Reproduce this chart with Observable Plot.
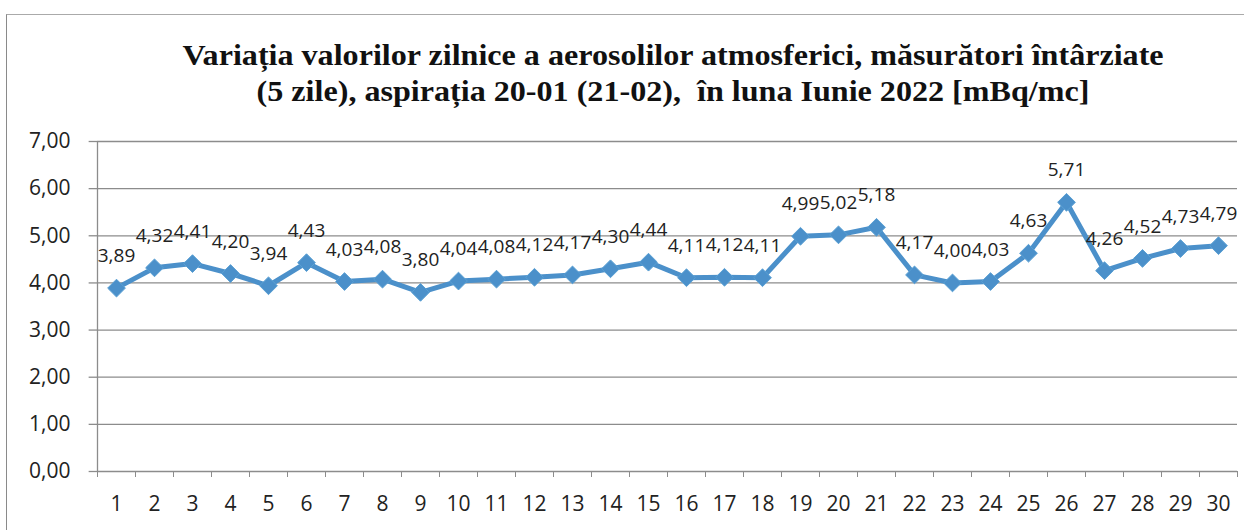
<!DOCTYPE html>
<html>
<head>
<meta charset="utf-8">
<script src="https://cdn.jsdelivr.net/npm/d3@7"></script>
<script src="https://cdn.jsdelivr.net/npm/@observablehq/plot@0.6"></script>
<style>
  html, body { margin: 0; padding: 0; background: #fff; }
  #wrap { position: relative; width: 1244px; height: 530px; overflow: hidden; background: #fff; }
  #frame { position: absolute; left: 6px; top: 14px; width: 1240px; height: 530px; border-left: 1.5px solid #8a8a8a; border-top: 1.5px solid #aaa; box-sizing: border-box; }
  #title { position: absolute; left: 51px; top: 37px; width: 1244px; text-align: center; font-family: "Liberation Serif", "Times New Roman", serif; font-weight: bold; font-size: 30px; line-height: 36px; color: #111; transform: scaleX(1.07); transform-origin: 622px 0; }
  #chart { position: absolute; left: 0; top: 118px; }
</style>
</head>
<body>
<div id="wrap">
  <div id="frame"></div>
  <div id="title">Variația valorilor zilnice a aerosolilor atmosferici, măsurători întârziate<br>(5 zile), aspirația 20-01 (21-02),&nbsp; în luna Iunie 2022 [mBq/mc]</div>
  <div id="chart"></div>
</div>
<script>
const days = d3.range(1, 31);
const values = [3.89, 4.32, 4.41, 4.20, 3.94, 4.43, 4.03, 4.08, 3.80, 4.04,
                4.08, 4.12, 4.17, 4.30, 4.44, 4.11, 4.12, 4.11, 4.99, 5.02,
                5.18, 4.17, 4.00, 4.03, 4.63, 5.71, 4.26, 4.52, 4.73, 4.79];
const yTicks = [0, 1, 2, 3, 4, 5, 6, 7];

const data = days.map((d, i) => ({day: d, value: values[i]}));
const boundaries = [0.5, ...days.map(d => d + 0.5)];
const fmt = v => d3.format(".2f")(v).replace(".", ",");
const blue = "#4b90ca";

const chart = Plot.plot({
  width: 1244,
  height: 412,
  marginTop: 23,
  marginBottom: 59,
  marginLeft: 97,
  marginRight: 7,
  style: {fontFamily: "'Open Sans', 'Liberation Sans', sans-serif", fontSize: "20px", color: "#222", background: "transparent"},
  x: {type: "linear", domain: [0.5, 30.5], label: null},
  y: {domain: [0, 7], label: null},
  marks: [
    Plot.ruleY(yTicks, {y: d => d, stroke: "#8c8c8c", strokeWidth: 1.3}),
    Plot.ruleY(yTicks, {y: d => d, x1: 0.28, x2: 0.5, stroke: "#8c8c8c", strokeWidth: 1.3}),
    Plot.ruleX([0.5], {y1: 0, y2: 7, stroke: "#8c8c8c", strokeWidth: 1.3}),
    Plot.axisY(yTicks, {tickSize: 0, tickPadding: 27, tickFormat: fmt, fontSize: 21, label: null}),
    Plot.axisX(boundaries, {tickSize: 6, tickFormat: () => "", stroke: "#8c8c8c", label: null}),
    Plot.axisX(days, {tickSize: 0, tickPadding: 25, tickFormat: d => String(d), fontSize: 21, label: null}),
    Plot.line(data, {x: "day", y: "value", stroke: blue, strokeWidth: 5, strokeLinejoin: "round"}),
    Plot.dot(data, {x: "day", y: "value", symbol: "diamond2", r: 8, fill: blue, stroke: "#5aa0d4", strokeWidth: 1}),
    Plot.text(data, {x: "day", y: "value", text: d => fmt(d.value), dy: -32, fontSize: 19, fill: "#222"})
  ]
});
document.getElementById("chart").appendChild(chart);
</script>
</body>
</html>
